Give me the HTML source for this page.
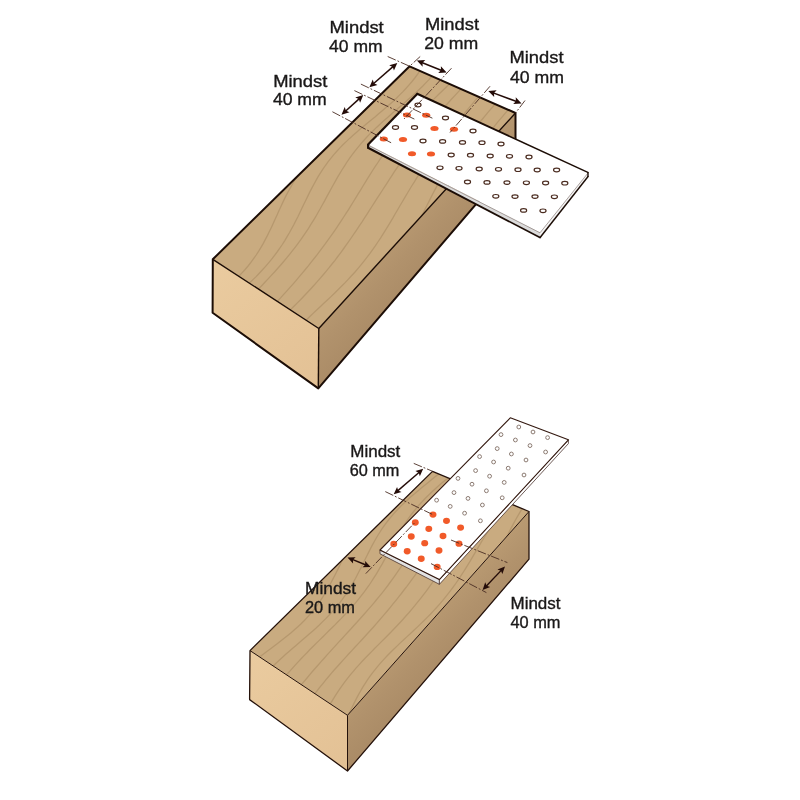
<!DOCTYPE html>
<html><head><meta charset="utf-8"><title>Mindst</title>
<style>
html,body{margin:0;padding:0;background:#fff;}
body{width:800px;height:800px;overflow:hidden;}
svg{display:block;will-change:transform;}
text{font-family:"Liberation Sans",sans-serif;fill:#1A1818;stroke:#1A1818;stroke-width:0.35px;}
</style></head><body>
<svg width="800" height="800" viewBox="0 0 800 800">
<rect width="800" height="800" fill="#fff"/>
<defs>
<linearGradient id="gS1" gradientUnits="userSpaceOnUse" x1="400" y1="220" x2="440" y2="257"><stop offset="0" stop-color="#B99A72"/><stop offset="0.5" stop-color="#B1926C"/><stop offset="1" stop-color="#AB8C67"/></linearGradient>
<linearGradient id="gS2" gradientUnits="userSpaceOnUse" x1="430" y1="610" x2="466" y2="646"><stop offset="0" stop-color="#B99A72"/><stop offset="0.5" stop-color="#B1926C"/><stop offset="1" stop-color="#AB8C67"/></linearGradient>
<linearGradient id="gF1" gradientUnits="userSpaceOnUse" x1="213" y1="262" x2="318" y2="386"><stop offset="0" stop-color="#EACB9F"/><stop offset="1" stop-color="#E3C195"/></linearGradient>
<linearGradient id="gF2" gradientUnits="userSpaceOnUse" x1="250" y1="652" x2="347" y2="768"><stop offset="0" stop-color="#EACB9F"/><stop offset="1" stop-color="#E3C195"/></linearGradient>
</defs>

<g id="fig1">
<polygon points="515.50,113.00 515.50,158.00 318.30,388.40 318.80,328.50" fill="url(#gS1)" />
<polygon points="212.80,259.30 318.80,328.50 318.30,388.40 212.60,312.80" fill="url(#gF1)" />
<polygon points="409.60,66.30 515.50,113.00 318.80,328.50 212.80,259.30" fill="#C9AB80" />
<clipPath id="cTop1"><polygon points="409.60,66.30 515.50,113.00 318.80,328.50 212.80,259.30"/></clipPath>
<g fill="none" stroke="#B6986E" stroke-width="1.3" stroke-linecap="round" clip-path="url(#cTop1)">
<polyline points="398.5,70.7 396.1,74.3 393.6,77.8 391.0,81.4 388.3,84.9 385.6,88.3 382.8,91.8 379.8,95.1 376.8,98.5 373.7,101.8 370.5,105.0 367.2,108.2 363.8,111.4 360.4,114.6 356.9,117.7 353.4,120.8 349.8,123.8 346.2,126.9 342.6,129.9 339.0,133.0 335.4,136.0 331.9,139.1 328.3,142.2 324.9,145.3 321.5,148.4 318.2,151.6 315.0,154.9 311.8,158.1 308.8,161.5 305.9,164.9 303.1,168.4 300.5,171.9 297.9,175.6 295.4,179.2 293.1,183.0 290.9,186.8 288.7,190.7 286.6,194.6 284.6,198.6 282.7,202.6 280.8,206.7 278.9,210.8 277.1,214.9 275.2,219.0 273.4,223.1 271.5,227.2 269.5,231.3 267.5,235.4 265.4,239.4 263.3,243.4 261.0,247.3 258.7,251.2 256.2,255.0 253.6,258.7 250.9,262.4 248.1,266.0 245.1,269.5 242.0,272.9 238.8,276.3"/>
<polyline points="420.0,70.9 417.4,74.5 414.8,78.0 412.0,81.5 409.1,84.9 406.1,88.3 403.0,91.6 399.7,94.9 396.4,98.2 393.0,101.4 389.5,104.5 385.9,107.6 382.3,110.7 378.6,113.8 375.0,116.9 371.2,119.9 367.5,123.0 363.9,126.0 360.2,129.1 356.6,132.2 353.1,135.3 349.6,138.4 346.2,141.6 342.9,144.8 339.7,148.1 336.6,151.5 333.6,154.9 330.8,158.4 328.0,161.9 325.4,165.5 322.9,169.2 320.5,172.9 318.1,176.7 315.9,180.6 313.8,184.5 311.7,188.4 309.6,192.4 307.7,196.4 305.7,200.5 303.7,204.5 301.8,208.6 299.8,212.7 297.9,216.7 295.8,220.8 293.8,224.8 291.6,228.8 289.4,232.8 287.1,236.7 284.8,240.6 282.3,244.5 279.8,248.2 277.1,252.0 274.4,255.6 271.5,259.3 268.6,262.8 265.6,266.3 262.5,269.8 259.3,273.2 256.1,276.6 252.7,279.9 249.3,283.1"/>
<polyline points="432.0,76.2 429.0,79.6 425.8,82.9 422.6,86.3 419.2,89.5 415.8,92.7 412.3,95.9 408.7,99.1 405.1,102.3 401.5,105.4 397.9,108.5 394.2,111.6 390.6,114.7 387.0,117.9 383.5,121.0 380.0,124.2 376.5,127.4 373.2,130.7 369.9,133.9 366.7,137.3 363.6,140.7 360.6,144.1 357.7,147.6 354.9,151.1 352.2,154.7 349.5,158.3 347.0,162.0 344.6,165.8 342.2,169.5 339.9,173.4 337.6,177.2 335.4,181.1 333.2,185.0 331.0,189.0 328.9,192.9 326.7,196.9 324.6,200.9 322.4,204.8 320.2,208.8 317.9,212.7 315.7,216.7 313.3,220.6 310.9,224.4 308.5,228.3 306.0,232.1 303.4,235.9 300.8,239.7 298.1,243.4 295.3,247.1 292.5,250.7 289.6,254.3 286.7,257.9 283.7,261.5 280.7,265.0 277.6,268.5 274.5,272.0 271.3,275.4 268.1,278.9 264.9,282.3 261.7,285.7 258.4,289.1"/>
<polyline points="449.4,83.9 446.1,87.2 442.7,90.5 439.3,93.8 435.9,97.1 432.5,100.4 429.0,103.7 425.6,107.0 422.2,110.2 418.8,113.5 415.4,116.9 412.1,120.2 408.9,123.6 405.7,127.0 402.6,130.4 399.6,133.9 396.6,137.4 393.7,140.9 390.8,144.5 388.1,148.1 385.4,151.8 382.7,155.5 380.1,159.2 377.6,163.0 375.1,166.7 372.6,170.5 370.2,174.4 367.8,178.2 365.4,182.1 363.0,186.0 360.7,189.9 358.3,193.7 355.9,197.6 353.5,201.5 351.1,205.4 348.7,209.3 346.2,213.2 343.7,217.0 341.2,220.9 338.7,224.7 336.1,228.6 333.5,232.4 330.8,236.2 328.1,239.9 325.4,243.7 322.6,247.4 319.8,251.2 317.0,254.9 314.1,258.5 311.2,262.2 308.3,265.9 305.3,269.5 302.3,273.1 299.3,276.7 296.2,280.3 293.2,283.8 290.0,287.4 286.9,290.9 283.7,294.4 280.6,297.9 277.3,301.4"/>
<polyline points="461.0,89.0 457.8,92.4 454.6,95.9 451.4,99.3 448.3,102.7 445.1,106.2 442.0,109.7 438.9,113.2 435.8,116.7 432.8,120.2 429.8,123.7 426.9,127.3 424.0,130.9 421.1,134.5 418.3,138.1 415.5,141.8 412.8,145.5 410.1,149.1 407.4,152.9 404.7,156.6 402.1,160.4 399.5,164.1 397.0,167.9 394.4,171.7 391.9,175.6 389.4,179.4 386.9,183.3 384.4,187.1 381.9,191.0 379.4,194.9 376.9,198.7 374.4,202.6 371.9,206.5 369.4,210.4 366.9,214.3 364.4,218.2 361.9,222.1 359.3,225.9 356.7,229.8 354.1,233.7 351.5,237.5 348.8,241.4 346.1,245.2 343.4,249.0 340.6,252.8 337.8,256.5 335.0,260.3 332.0,264.0 329.1,267.7 326.1,271.3 323.0,275.0 319.9,278.6 316.8,282.1 313.6,285.7 310.4,289.2 307.1,292.7 303.8,296.2 300.5,299.7 297.1,303.1 293.7,306.5 290.3,309.9"/>
<polyline points="478.4,96.7 475.4,100.2 472.4,103.8 469.4,107.4 466.4,111.0 463.4,114.6 460.4,118.2 457.5,121.8 454.6,125.4 451.7,129.1 448.8,132.7 445.9,136.4 443.1,140.1 440.3,143.8 437.5,147.6 434.8,151.3 432.1,155.1 429.4,158.9 426.8,162.7 424.2,166.5 421.7,170.4 419.1,174.2 416.6,178.1 414.2,182.1 411.7,186.0 409.3,190.0 406.9,194.0 404.6,197.9 402.2,202.0 399.8,206.0 397.5,210.0 395.1,214.0 392.8,218.1 390.4,222.1 388.0,226.1 385.5,230.1 383.0,234.1 380.5,238.1 377.9,242.0 375.3,245.9 372.5,249.8 369.8,253.6 366.9,257.4 364.0,261.2 361.0,264.9 357.9,268.6 354.8,272.2 351.5,275.8 348.2,279.4 344.9,282.9 341.5,286.3 338.0,289.8 334.5,293.2 331.0,296.6 327.4,300.0 323.8,303.3 320.2,306.7 316.7,310.0 313.1,313.4 309.6,316.8 306.1,320.2"/>
<polyline points="495.2,104.0 492.1,107.6 489.0,111.2 485.9,114.9 482.9,118.5 479.8,122.1 476.8,125.8 473.9,129.4 470.9,133.1 468.1,136.8 465.2,140.6 462.4,144.4 459.7,148.2 457.1,152.0 454.5,155.9 451.9,159.8 449.5,163.7 447.0,167.7 444.7,171.7 442.4,175.7 440.1,179.8 437.9,183.9 435.8,188.1 433.6,192.2 431.5,196.4 429.4,200.6 427.3,204.8 425.1,209.0 423.0,213.2 420.8,217.4 418.6,221.5 416.3,225.7 413.9,229.8 411.5,233.9 409.0,237.9 356.7,295.7 353.0,299.1 349.3,302.4 345.6,305.8 342.0,309.2 338.4,312.6 334.9,316.0 331.4,319.5 328.1,323.1 324.8,326.7 321.6,330.3"/>
<polyline points="508.3,109.8 505.1,113.4 502.0,117.1 498.9,120.7 495.9,124.4 492.9,128.1 490.1,131.9 487.3,135.7 484.6,139.5 482.0,143.4 479.5,147.4 477.1,151.4 474.7,155.4 472.5,159.5 470.3,163.6 468.2,167.8 466.2,172.0 464.2,176.3"/>
</g>
<polyline points="212.8,259.3 318.8,328.5 515.5,113" fill="none" stroke="#1C0D06" stroke-width="1.4" stroke-linejoin="round"/>
<line x1="318.80" y1="328.50" x2="318.30" y2="388.40" stroke="#1C0D06" stroke-width="1.4" />
<polygon points="409.60,66.30 515.50,113.00 515.50,158.00 318.30,388.40 212.60,312.80 212.80,259.30" fill="none" stroke="#1C0D06" stroke-width="2.0" stroke-linejoin="round" />
<polygon points="368.10,144.60 540.00,232.20 540.00,237.60 368.10,147.80" fill="#DCDCDC" />
<polygon points="540.00,232.20 588.00,172.40 588.00,176.60 540.00,237.60" fill="#F4F4F4" />
<polygon points="417.20,93.90 588.00,172.40 540.00,232.20 368.10,144.60" fill="#FFFFFF" />
<polyline points="368.1,145.2 540,232.79999999999998 588,173.0" fill="none" stroke="#8A7D78" stroke-width="0.7"/>
<polygon points="416.14,94.62 588.09,173.21 588.67,171.94 417.06,92.62" fill="#1C0D06" />
<polygon points="587.30,171.98 587.30,177.02 588.70,177.02 588.70,171.98" fill="#1C0D06" />
<polygon points="587.71,175.84 539.13,237.49 540.31,238.42 588.81,176.70" fill="#1C0D06" />
<polygon points="540.80,237.11 368.03,146.58 367.06,148.44 540.06,238.53" fill="#1C0D06" />
<polygon points="369.15,148.43 369.20,143.94 367.00,143.94 367.05,148.43" fill="#1C0D06" />
<polygon points="368.43,145.84 418.45,94.19 416.87,92.66 366.85,144.31" fill="#1C0D06" />
<ellipse cx="418" cy="105" rx="3.05" ry="1.8" fill="#fff" stroke="#4A2B1F" stroke-width="1.2"/>
<ellipse cx="445.5" cy="118" rx="3.05" ry="1.8" fill="#fff" stroke="#4A2B1F" stroke-width="1.2"/>
<ellipse cx="395.5" cy="127.5" rx="3.05" ry="1.8" fill="#fff" stroke="#4A2B1F" stroke-width="1.2"/>
<ellipse cx="414.5" cy="127.5" rx="3.05" ry="1.8" fill="#fff" stroke="#4A2B1F" stroke-width="1.2"/>
<ellipse cx="473" cy="131" rx="3.05" ry="1.8" fill="#fff" stroke="#4A2B1F" stroke-width="1.2"/>
<ellipse cx="423" cy="141" rx="3.05" ry="1.8" fill="#fff" stroke="#4A2B1F" stroke-width="1.2"/>
<ellipse cx="442.6" cy="141.4" rx="3.05" ry="1.8" fill="#fff" stroke="#4A2B1F" stroke-width="1.2"/>
<ellipse cx="462.5" cy="142.4" rx="3.05" ry="1.8" fill="#fff" stroke="#4A2B1F" stroke-width="1.2"/>
<ellipse cx="482" cy="142.7" rx="3.05" ry="1.8" fill="#fff" stroke="#4A2B1F" stroke-width="1.2"/>
<ellipse cx="501" cy="144" rx="3.05" ry="1.8" fill="#fff" stroke="#4A2B1F" stroke-width="1.2"/>
<ellipse cx="451.2" cy="155" rx="3.05" ry="1.8" fill="#fff" stroke="#4A2B1F" stroke-width="1.2"/>
<ellipse cx="470.5" cy="155.2" rx="3.05" ry="1.8" fill="#fff" stroke="#4A2B1F" stroke-width="1.2"/>
<ellipse cx="490.2" cy="156" rx="3.05" ry="1.8" fill="#fff" stroke="#4A2B1F" stroke-width="1.2"/>
<ellipse cx="509.5" cy="156.3" rx="3.05" ry="1.8" fill="#fff" stroke="#4A2B1F" stroke-width="1.2"/>
<ellipse cx="529" cy="157" rx="3.05" ry="1.8" fill="#fff" stroke="#4A2B1F" stroke-width="1.2"/>
<ellipse cx="440" cy="167.8" rx="3.05" ry="1.8" fill="#fff" stroke="#4A2B1F" stroke-width="1.2"/>
<ellipse cx="459" cy="168.3" rx="3.05" ry="1.8" fill="#fff" stroke="#4A2B1F" stroke-width="1.2"/>
<ellipse cx="479.2" cy="169" rx="3.05" ry="1.8" fill="#fff" stroke="#4A2B1F" stroke-width="1.2"/>
<ellipse cx="498.5" cy="169.3" rx="3.05" ry="1.8" fill="#fff" stroke="#4A2B1F" stroke-width="1.2"/>
<ellipse cx="518" cy="169.7" rx="3.05" ry="1.8" fill="#fff" stroke="#4A2B1F" stroke-width="1.2"/>
<ellipse cx="537.2" cy="170" rx="3.05" ry="1.8" fill="#fff" stroke="#4A2B1F" stroke-width="1.2"/>
<ellipse cx="556.6" cy="170" rx="3.05" ry="1.8" fill="#fff" stroke="#4A2B1F" stroke-width="1.2"/>
<ellipse cx="467.5" cy="182" rx="3.05" ry="1.8" fill="#fff" stroke="#4A2B1F" stroke-width="1.2"/>
<ellipse cx="487" cy="182.4" rx="3.05" ry="1.8" fill="#fff" stroke="#4A2B1F" stroke-width="1.2"/>
<ellipse cx="507" cy="182.6" rx="3.05" ry="1.8" fill="#fff" stroke="#4A2B1F" stroke-width="1.2"/>
<ellipse cx="526.4" cy="182.8" rx="3.05" ry="1.8" fill="#fff" stroke="#4A2B1F" stroke-width="1.2"/>
<ellipse cx="545.6" cy="183" rx="3.05" ry="1.8" fill="#fff" stroke="#4A2B1F" stroke-width="1.2"/>
<ellipse cx="564.8" cy="183.2" rx="3.05" ry="1.8" fill="#fff" stroke="#4A2B1F" stroke-width="1.2"/>
<ellipse cx="495.8" cy="196.3" rx="3.05" ry="1.8" fill="#fff" stroke="#4A2B1F" stroke-width="1.2"/>
<ellipse cx="515" cy="196.6" rx="3.05" ry="1.8" fill="#fff" stroke="#4A2B1F" stroke-width="1.2"/>
<ellipse cx="535" cy="196.6" rx="3.05" ry="1.8" fill="#fff" stroke="#4A2B1F" stroke-width="1.2"/>
<ellipse cx="554.4" cy="196.8" rx="3.05" ry="1.8" fill="#fff" stroke="#4A2B1F" stroke-width="1.2"/>
<ellipse cx="523.6" cy="210.4" rx="3.05" ry="1.8" fill="#fff" stroke="#4A2B1F" stroke-width="1.2"/>
<ellipse cx="543" cy="210.8" rx="3.05" ry="1.8" fill="#fff" stroke="#4A2B1F" stroke-width="1.2"/>
<ellipse cx="407" cy="115" rx="4.1" ry="2.5" fill="#F15A29"/>
<ellipse cx="426.2" cy="115.2" rx="4.1" ry="2.5" fill="#F15A29"/>
<ellipse cx="434.5" cy="128.5" rx="4.1" ry="2.5" fill="#F15A29"/>
<ellipse cx="454" cy="129.2" rx="4.1" ry="2.5" fill="#F15A29"/>
<ellipse cx="383.8" cy="139" rx="4.1" ry="2.5" fill="#F15A29"/>
<ellipse cx="403" cy="139.5" rx="4.1" ry="2.5" fill="#F15A29"/>
<ellipse cx="412" cy="153.8" rx="4.1" ry="2.5" fill="#F15A29"/>
<ellipse cx="431" cy="154" rx="4.1" ry="2.5" fill="#F15A29"/>
<line x1="387.70" y1="56.50" x2="409.60" y2="66.25" stroke="#4A2C22" stroke-width="0.9" stroke-dasharray="8.8 1.9 1.8 1.9"/>
<line x1="360.90" y1="84.10" x2="432.40" y2="118.20" stroke="#4A2C22" stroke-width="0.9" stroke-dasharray="8.8 1.9 1.8 1.9"/>
<line x1="354.40" y1="90.60" x2="416.10" y2="119.90" stroke="#4A2C22" stroke-width="0.9" stroke-dasharray="8.8 1.9 1.8 1.9"/>
<line x1="332.40" y1="111.75" x2="391.40" y2="142.90" stroke="#4A2C22" stroke-width="0.9" stroke-dasharray="8.8 1.9 1.8 1.9"/>
<line x1="420.20" y1="56.50" x2="409.60" y2="66.25" stroke="#4A2C22" stroke-width="0.9" stroke-dasharray="8.8 1.9 1.8 1.9"/>
<line x1="451.50" y1="68.20" x2="404.00" y2="119.00" stroke="#4A2C22" stroke-width="0.9" stroke-dasharray="8.8 1.9 1.8 1.9"/>
<line x1="490.00" y1="86.25" x2="450.00" y2="132.50" stroke="#4A2C22" stroke-width="0.9" stroke-dasharray="8.8 1.9 1.8 1.9"/>
<line x1="525.00" y1="100.50" x2="515.50" y2="113.00" stroke="#4A2C22" stroke-width="0.9" stroke-dasharray="8.8 1.9 1.8 1.9"/>
<line x1="393.87" y1="65.90" x2="372.83" y2="84.30" stroke="#240C08" stroke-width="1.5" />
<polygon points="397.30,62.90 389.21,65.19 392.72,66.90 393.95,70.61" fill="#240C08" />
<polygon points="369.40,87.30 372.75,79.59 373.98,83.30 377.49,85.01" fill="#240C08" />
<line x1="359.92" y1="98.07" x2="344.88" y2="111.73" stroke="#240C08" stroke-width="1.5" />
<polygon points="363.30,95.00 355.25,97.44 358.80,99.09 360.09,102.77" fill="#240C08" />
<polygon points="341.50,114.80 344.71,107.03 346.00,110.71 349.55,112.36" fill="#240C08" />
<line x1="421.13" y1="62.30" x2="442.37" y2="70.80" stroke="#240C08" stroke-width="1.5" />
<polygon points="416.90,60.60 422.62,66.77 422.54,62.86 425.29,60.08" fill="#240C08" />
<polygon points="446.60,72.50 438.21,73.02 440.96,70.24 440.88,66.33" fill="#240C08" />
<line x1="492.57" y1="92.59" x2="517.33" y2="101.81" stroke="#240C08" stroke-width="1.5" />
<polygon points="488.30,91.00 494.17,97.03 494.00,93.12 496.68,90.28" fill="#240C08" />
<polygon points="521.60,103.40 513.22,104.12 515.90,101.28 515.73,97.37" fill="#240C08" />
<text x="356.60" y="33.20" font-size="17.0" text-anchor="middle" textLength="54.3" lengthAdjust="spacingAndGlyphs">Mindst</text>
<text x="355.80" y="52.20" font-size="17.0" text-anchor="middle" textLength="53.5" lengthAdjust="spacingAndGlyphs">40 mm</text>
<text x="300.30" y="86.70" font-size="17.0" text-anchor="middle" textLength="54.2" lengthAdjust="spacingAndGlyphs">Mindst</text>
<text x="299.80" y="105.40" font-size="17.0" text-anchor="middle" textLength="53.8" lengthAdjust="spacingAndGlyphs">40 mm</text>
<text x="452.00" y="29.50" font-size="17.0" text-anchor="middle" textLength="54.0" lengthAdjust="spacingAndGlyphs">Mindst</text>
<text x="451.30" y="49.20" font-size="17.0" text-anchor="middle" textLength="54.0" lengthAdjust="spacingAndGlyphs">20 mm</text>
<text x="536.50" y="62.50" font-size="17.0" text-anchor="middle" textLength="54.0" lengthAdjust="spacingAndGlyphs">Mindst</text>
<text x="537.00" y="82.50" font-size="17.0" text-anchor="middle" textLength="54.0" lengthAdjust="spacingAndGlyphs">40 mm</text>
</g>
<g id="fig2">
<polygon points="529.00,511.50 529.00,559.20 347.50,771.00 347.50,715.30" fill="url(#gS2)" />
<polygon points="250.00,650.60 347.50,715.30 347.50,771.00 249.60,699.60" fill="url(#gF2)" />
<polygon points="432.50,471.40 529.00,511.50 347.50,715.30 250.00,650.60" fill="#C9AB80" />
<clipPath id="cTop2"><polygon points="432.50,471.40 529.00,511.50 347.50,715.30 250.00,650.60"/></clipPath>
<g fill="none" stroke="#B6986E" stroke-width="1.3" stroke-linecap="round" clip-path="url(#cTop2)">
<polyline points="351.6,543.6 349.5,547.0 347.5,550.5 345.6,554.1 343.7,557.7 341.8,561.3 340.0,565.0 338.2,568.6 336.4,572.3 334.5,576.0 332.6,579.6 330.7,583.3 328.8,586.9 326.7,590.5 324.6,594.1 322.4,597.6 320.1,601.1 317.7,604.5 315.2,607.9 312.6,611.1 309.9,614.4 307.0,617.6 304.1,620.7 301.1,623.7 297.9,626.7 294.7,629.6 291.4,632.5 288.0,635.3 284.5,638.1 281.0,640.8 277.5,643.6 273.9,646.3 270.3,648.9 266.8,651.6 263.2,654.3 259.6,657.0"/>
<polyline points="438.6,473.9 435.1,476.8 431.7,479.6 428.2,482.4 424.7,485.2 421.3,488.1 417.8,490.9 414.5,493.8 411.1,496.6 407.9,499.5 404.7,502.5 401.6,505.4 398.6,508.5 395.7,511.5 392.9,514.6 390.2,517.8 387.7,521.0 385.2,524.3 382.8,527.7 380.6,531.0 378.4,534.5 376.3,538.0 374.3,541.5 372.3,545.1 370.4,548.7 368.6,552.4 366.8,556.0 364.9,559.7 363.1,563.4 361.3,567.1 359.4,570.8 357.5,574.5 355.6,578.2 353.6,581.8 351.5,585.4 349.3,589.0 347.1,592.5 344.7,596.0 342.3,599.4 339.7,602.8 337.1,606.1 334.3,609.4 331.5,612.6 328.5,615.8 325.5,618.9 322.4,621.9 319.3,625.0 316.1,628.0 312.8,630.9 309.5,633.8 306.1,636.7 302.8,639.6 299.4,642.5 296.0,645.4 292.7,648.3 289.3,651.2 286.0,654.1 282.8,657.0 279.5,660.0 276.3,663.0 273.2,666.0"/>
<polyline points="448.1,477.9 444.6,480.8 441.2,483.6 437.8,486.6 434.5,489.5 431.3,492.5 428.2,495.5 425.1,498.5 422.2,501.6 419.3,504.7 416.6,507.9 414.0,511.1 411.4,514.4 409.0,517.7 406.6,521.1 404.3,524.5 402.1,528.0 400.0,531.5 397.9,535.1 395.9,538.6 393.9,542.2 392.0,545.9 390.0,549.5 388.1,553.1 386.1,556.8 384.1,560.4 382.1,564.1 380.0,567.7 377.9,571.3 375.8,574.9 373.5,578.4 371.2,582.0 368.9,585.5 366.4,588.9 363.9,592.3 361.3,595.7 358.6,599.1 355.9,602.4 353.1,605.6 350.2,608.9 347.3,612.1 344.3,615.2 341.3,618.4 338.2,621.5 335.2,624.6 332.0,627.7 328.9,630.8 325.8,633.9 322.7,637.0 319.5,640.1 316.4,643.1 313.3,646.2 310.2,649.3 307.2,652.5 304.1,655.6 301.1,658.8 298.2,661.9 295.2,665.1 292.3,668.4 289.4,671.6 286.5,674.8"/>
<polyline points="460.7,483.1 457.6,486.2 454.5,489.3 451.6,492.4 448.7,495.6 446.0,498.8 443.3,502.1 440.7,505.4 438.1,508.7 435.6,512.1 433.2,515.5 430.9,519.0 428.6,522.4 426.3,525.9 424.1,529.4 421.9,533.0 419.8,536.5 417.6,540.1 415.5,543.7 413.3,547.2 411.1,550.8 408.9,554.4 406.7,558.0 404.4,561.5 402.2,565.1 399.8,568.6 397.4,572.1 395.0,575.6 392.5,579.1 390.0,582.5 387.5,586.0 384.9,589.4 382.2,592.8 379.5,596.1 376.7,599.5 374.0,602.8 371.2,606.1 368.3,609.4 365.4,612.7 362.5,616.0 359.6,619.2 356.7,622.5 353.7,625.7 350.8,629.0 347.8,632.2 344.9,635.4 341.9,638.7 338.9,641.9 336.0,645.1 333.0,648.4 330.1,651.6 327.1,654.9 324.2,658.2 321.3,661.4 318.4,664.7 315.5,668.0 312.6,671.3 309.8,674.6 307.0,678.0 304.2,681.3 301.3,684.7"/>
<polyline points="475.6,489.3 472.9,492.6 470.2,495.9 467.6,499.3 465.0,502.6 462.5,506.0 460.0,509.5 457.5,512.9 455.1,516.4 452.7,519.8 450.3,523.3 448.0,526.8 445.6,530.3 443.3,533.9 440.9,537.4 438.6,540.9 436.2,544.5 433.9,548.0 431.5,551.5 429.1,555.1 426.7,558.6 424.3,562.1 421.8,565.6 419.4,569.2 416.9,572.7 414.4,576.2 411.8,579.6 409.3,583.1 406.7,586.6 404.0,590.0 401.4,593.5 398.7,596.9 396.0,600.3 393.2,603.7 390.5,607.1 387.7,610.5 384.8,613.9 382.0,617.2 379.1,620.5 376.2,623.9 373.3,627.2 370.3,630.5 367.3,633.7 364.4,637.0 361.4,640.3 358.3,643.6 355.3,646.8 352.3,650.1 349.3,653.3 346.3,656.6 343.3,659.9 340.3,663.2 337.4,666.5 334.4,669.8 331.5,673.1 328.7,676.5 325.8,679.9 323.1,683.3 320.3,686.7 317.6,690.2 314.9,693.7"/>
<polyline points="492.0,496.1 489.4,499.6 486.8,503.0 484.3,506.4 481.8,509.9 479.3,513.4 476.8,516.9 474.3,520.4 471.9,523.9 469.4,527.4 467.0,531.0 464.6,534.5 462.2,538.1 459.9,541.7 457.5,545.2 455.1,548.8 452.7,552.4 450.4,556.0 448.0,559.6 445.6,563.2 443.2,566.8 440.8,570.4 438.3,574.0 435.9,577.6 433.4,581.2 430.9,584.7 428.3,588.3 425.7,591.8 423.0,595.3 420.3,598.8 417.6,602.2 414.8,605.7 411.9,609.1 409.1,612.5 406.1,615.8 403.1,619.2 400.1,622.5 397.0,625.8 393.9,629.0 390.8,632.3 387.6,635.5 384.4,638.7 381.2,641.9 378.0,645.1 374.8,648.3 371.6,651.6 368.5,654.8 365.3,658.0 362.2,661.3 359.2,664.6 356.2,667.9 353.3,671.3 350.5,674.7 347.7,678.2 345.0,681.7 342.3,685.3 339.8,688.9 337.3,692.6 334.9,696.3 332.6,700.1 330.3,703.9"/>
<polyline points="507.2,502.4 504.7,506.0 502.2,509.5 499.7,513.0 497.3,516.6 494.9,520.2 492.6,523.8 490.3,527.5 488.0,531.1 485.8,534.8 483.5,538.5 481.3,542.2 479.1,545.9 476.9,549.7 474.7,553.4 472.5,557.1 470.3,560.9 468.0,564.6 465.7,568.3 463.4,572.0 461.0,575.7 458.6,579.4 456.1,583.0 453.5,586.6 450.9,590.2 448.2,593.7 445.4,597.2 442.6,600.7 439.6,604.1 436.6,607.5 433.5,610.9 430.4,614.2 427.2,617.4 423.9,620.7 420.6,623.9 417.3,627.1 413.9,630.3 410.5,633.4 407.1,636.6 403.7,639.7 400.3,642.9 397.0,646.1 393.7,649.3 390.4,652.5 387.2,655.8 384.1,659.1 381.1,662.4 378.1,665.8 375.3,669.3 372.5,672.8 369.9,676.4 367.3,680.1 364.9,683.8 362.5,687.6 360.3,691.5 358.1,695.4 356.0,699.4 354.0,703.4 352.0,707.5 350.0,711.6 348.1,715.7"/>
<polyline points="522.1,508.6 519.9,512.3 517.7,516.1 515.6,519.8 513.5,523.6 511.5,527.4 509.5,531.3 507.5,535.1 505.5,539.0 503.5,542.9 501.5,546.7 499.5,550.6 497.5,554.5"/>
</g>
<polyline points="250,650.6 347.5,715.3 529,511.5" fill="none" stroke="#24110A" stroke-width="1.0" stroke-linejoin="round"/>
<line x1="347.50" y1="715.30" x2="347.50" y2="771.00" stroke="#24110A" stroke-width="1.0" />
<polygon points="432.50,471.40 529.00,511.50 529.00,559.20 347.50,771.00 249.60,699.60 250.00,650.60" fill="none" stroke="#24110A" stroke-width="1.3" stroke-linejoin="round" />
<polygon points="380.00,550.00 439.40,579.60 439.40,584.30 380.00,553.80" fill="#E2E2E2" stroke="#4A342E" stroke-width="0.8" stroke-linejoin="round" />
<polygon points="439.40,579.60 568.40,439.80 568.40,443.60 439.40,584.30" fill="#FFFFFF" stroke="#4A342E" stroke-width="0.8" stroke-linejoin="round" />
<polygon points="510.30,417.80 568.40,439.80 439.40,579.60 380.00,550.00" fill="#FFFFFF" stroke="#33180F" stroke-width="1.1" stroke-linejoin="round" />
<circle cx="518.8" cy="427" r="1.9" fill="#fff" stroke="#8C7B72" stroke-width="1.0"/>
<circle cx="533" cy="432" r="1.9" fill="#fff" stroke="#8C7B72" stroke-width="1.0"/>
<circle cx="547.6" cy="437.6" r="1.9" fill="#fff" stroke="#8C7B72" stroke-width="1.0"/>
<circle cx="501" cy="434.6" r="1.9" fill="#fff" stroke="#8C7B72" stroke-width="1.0"/>
<circle cx="515.4" cy="440" r="1.9" fill="#fff" stroke="#8C7B72" stroke-width="1.0"/>
<circle cx="530" cy="445.6" r="1.9" fill="#fff" stroke="#8C7B72" stroke-width="1.0"/>
<circle cx="545.6" cy="452" r="1.9" fill="#fff" stroke="#8C7B72" stroke-width="1.0"/>
<circle cx="497.2" cy="448.6" r="1.9" fill="#fff" stroke="#8C7B72" stroke-width="1.0"/>
<circle cx="511.4" cy="454" r="1.9" fill="#fff" stroke="#8C7B72" stroke-width="1.0"/>
<circle cx="526" cy="460" r="1.9" fill="#fff" stroke="#8C7B72" stroke-width="1.0"/>
<circle cx="479.6" cy="456.6" r="1.9" fill="#fff" stroke="#8C7B72" stroke-width="1.0"/>
<circle cx="493.6" cy="462" r="1.9" fill="#fff" stroke="#8C7B72" stroke-width="1.0"/>
<circle cx="508.2" cy="468.2" r="1.9" fill="#fff" stroke="#8C7B72" stroke-width="1.0"/>
<circle cx="524" cy="475" r="1.9" fill="#fff" stroke="#8C7B72" stroke-width="1.0"/>
<circle cx="475.6" cy="470.6" r="1.9" fill="#fff" stroke="#8C7B72" stroke-width="1.0"/>
<circle cx="489.6" cy="476.2" r="1.9" fill="#fff" stroke="#8C7B72" stroke-width="1.0"/>
<circle cx="504.2" cy="482.4" r="1.9" fill="#fff" stroke="#8C7B72" stroke-width="1.0"/>
<circle cx="458" cy="478.4" r="1.9" fill="#fff" stroke="#8C7B72" stroke-width="1.0"/>
<circle cx="472" cy="484.2" r="1.9" fill="#fff" stroke="#8C7B72" stroke-width="1.0"/>
<circle cx="486.4" cy="490.8" r="1.9" fill="#fff" stroke="#8C7B72" stroke-width="1.0"/>
<circle cx="502.2" cy="497.8" r="1.9" fill="#fff" stroke="#8C7B72" stroke-width="1.0"/>
<circle cx="454" cy="492.6" r="1.9" fill="#fff" stroke="#8C7B72" stroke-width="1.0"/>
<circle cx="468" cy="498.4" r="1.9" fill="#fff" stroke="#8C7B72" stroke-width="1.0"/>
<circle cx="482.4" cy="505" r="1.9" fill="#fff" stroke="#8C7B72" stroke-width="1.0"/>
<circle cx="436.6" cy="500.2" r="1.9" fill="#fff" stroke="#8C7B72" stroke-width="1.0"/>
<circle cx="450.2" cy="506.4" r="1.9" fill="#fff" stroke="#8C7B72" stroke-width="1.0"/>
<circle cx="464.6" cy="513.2" r="1.9" fill="#fff" stroke="#8C7B72" stroke-width="1.0"/>
<circle cx="480.4" cy="520.8" r="1.9" fill="#fff" stroke="#8C7B72" stroke-width="1.0"/>
<ellipse cx="433" cy="514.6" rx="3.45" ry="3.15" fill="#F15A29"/>
<ellipse cx="446.5" cy="520.8" rx="3.45" ry="3.15" fill="#F15A29"/>
<ellipse cx="460.6" cy="527.6" rx="3.45" ry="3.15" fill="#F15A29"/>
<ellipse cx="415.3" cy="522.5" rx="3.45" ry="3.15" fill="#F15A29"/>
<ellipse cx="428.8" cy="528.8" rx="3.45" ry="3.15" fill="#F15A29"/>
<ellipse cx="443" cy="536" rx="3.45" ry="3.15" fill="#F15A29"/>
<ellipse cx="459" cy="543.7" rx="3.45" ry="3.15" fill="#F15A29"/>
<ellipse cx="411.25" cy="536.5" rx="3.45" ry="3.15" fill="#F15A29"/>
<ellipse cx="424.7" cy="543.2" rx="3.45" ry="3.15" fill="#F15A29"/>
<ellipse cx="439" cy="550.5" rx="3.45" ry="3.15" fill="#F15A29"/>
<ellipse cx="393.75" cy="544" rx="3.45" ry="3.15" fill="#F15A29"/>
<ellipse cx="407.2" cy="551.25" rx="3.45" ry="3.15" fill="#F15A29"/>
<ellipse cx="421.25" cy="558.75" rx="3.45" ry="3.15" fill="#F15A29"/>
<ellipse cx="437.2" cy="566.9" rx="3.45" ry="3.15" fill="#F15A29"/>
<line x1="413.75" y1="463.40" x2="432.50" y2="471.25" stroke="#4A2C22" stroke-width="0.9" stroke-dasharray="8.8 1.9 1.8 1.9"/>
<line x1="385.30" y1="491.60" x2="433.00" y2="514.70" stroke="#4A2C22" stroke-width="0.9" stroke-dasharray="8.8 1.9 1.8 1.9"/>
<line x1="365.80" y1="573.60" x2="415.70" y2="521.70" stroke="#4A2C22" stroke-width="0.9" stroke-dasharray="8.8 1.9 1.8 1.9"/>
<line x1="451.00" y1="540.00" x2="507.40" y2="562.60" stroke="#4A2C22" stroke-width="0.9" stroke-dasharray="8.8 1.9 1.8 1.9"/>
<line x1="431.00" y1="563.60" x2="486.40" y2="592.60" stroke="#4A2C22" stroke-width="0.9" stroke-dasharray="8.8 1.9 1.8 1.9"/>
<line x1="419.84" y1="471.70" x2="397.06" y2="491.40" stroke="#240C08" stroke-width="1.4" />
<polygon points="423.20,468.80 415.38,471.07 418.72,472.67 419.83,476.21" fill="#240C08" />
<polygon points="393.70,494.30 397.07,486.89 398.18,490.43 401.52,492.03" fill="#240C08" />
<line x1="351.62" y1="559.17" x2="366.58" y2="565.23" stroke="#240C08" stroke-width="1.4" />
<polygon points="347.50,557.50 353.08,563.43 352.99,559.72 355.64,557.13" fill="#240C08" />
<polygon points="370.70,566.90 362.56,567.27 365.21,564.68 365.12,560.97" fill="#240C08" />
<line x1="501.94" y1="569.62" x2="485.66" y2="586.78" stroke="#240C08" stroke-width="1.4" />
<polygon points="505.00,566.40 497.44,569.43 500.92,570.69 502.37,574.11" fill="#240C08" />
<polygon points="482.60,590.00 485.23,582.29 486.68,585.71 490.16,586.97" fill="#240C08" />
<text x="375.30" y="457.20" font-size="16.2" text-anchor="middle" textLength="50.0" lengthAdjust="spacingAndGlyphs">Mindst</text>
<text x="374.50" y="476.00" font-size="16.2" text-anchor="middle" textLength="49.7" lengthAdjust="spacingAndGlyphs">60 mm</text>
<text x="330.50" y="594.00" font-size="16.2" text-anchor="middle" textLength="51.0" lengthAdjust="spacingAndGlyphs">Mindst</text>
<text x="330.00" y="612.50" font-size="16.2" text-anchor="middle" textLength="50.0" lengthAdjust="spacingAndGlyphs">20 mm</text>
<text x="535.50" y="609.40" font-size="16.2" text-anchor="middle" textLength="50.0" lengthAdjust="spacingAndGlyphs">Mindst</text>
<text x="535.50" y="628.00" font-size="16.2" text-anchor="middle" textLength="50.0" lengthAdjust="spacingAndGlyphs">40 mm</text>
</g>
</svg></body></html>
